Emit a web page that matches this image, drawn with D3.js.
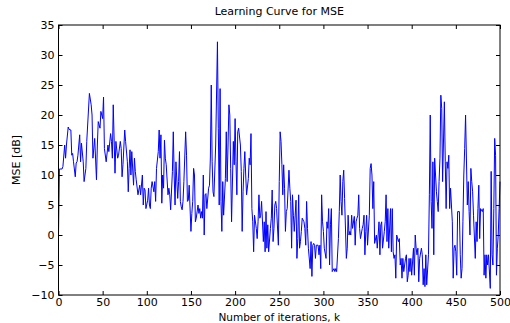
<!DOCTYPE html>
<html>
<head>
<meta charset="utf-8">
<script src="https://cdn.jsdelivr.net/npm/d3@7"></script>
<style>
  html, body { margin: 0; padding: 0; background: #fff; }
  svg { display: block; font-family: "DejaVu Sans", sans-serif; }
</style>
</head>
<body>
<div id="chart"></div>
<script>
// iteration index and MSE (dB)
const iterations = [
  0,1,4,5,7,8,9,11,12,14,15,16,17,19,20,21,22,24,25,26,28,29,31,32,35,37,38,39,41,43,44,45,47,48,50,51,52,54,56,57,59,60,61,62,
  64,65,67,68,70,71,72,73,75,76,78,79,80,81,82,83,85,86,87,88,90,91,92,93,95,96,97,98,99,101,102,103,104,105,106,108,109,110,111,113,114,115,116,117,118,119,120,121,122,
  124,125,126,127,129,130,131,132,133,135,136,137,138,139,140,141,142,144,145,146,147,148,150,151,152,153,154,155,156,158,159,160,161,162,163,164,165,166,167,168,170,171,172,173,174,175,176,178,180,181,182,183,
  184,185,186,187,189,190,191,192,193,194,195,196,198,199,200,201,202,203,204,206,207,208,209,210,211,212,213,215,216,217,218,219,220,221,222,224,225,226,227,228,229,230,232,233,234,235,236,237,238,240,241,242,243,244,
  245,246,247,249,250,251,252,253,254,255,256,257,258,259,261,262,263,264,265,266,267,269,270,271,272,273,274,275,276,278,279,280,281,282,283,285,286,287,288,289,290,291,292,294,295,296,297,298,299,300,301,303,304,305,306,307,308,309,310,312,
  313,314,315,317,318,319,320,321,322,323,324,326,327,328,329,330,331,332,333,335,336,337,338,339,340,341,342,344,345,346,347,348,349,350,352,353,354,355,356,357,358,360,361,362,363,364,365,366,367,369,
  370,371,372,373,374,376,377,378,379,380,381,382,383,385,386,387,388,389,390,391,393,394,395,396,397,398,399,400,402,403,404,405,406,407,408,409,411,412,413,414,415,416,417,419,420,421,422,423,424,425,426,428,429,430,431,432,433,434,
  435,437,438,439,440,441,442,443,444,446,447,448,449,450,451,452,454,455,456,457,458,459,460,461,463,464,465,466,467,468,469,470,472,473,474,475,476,477,478,480,481,482,483,484,485,486,487,489,490,491,492,493,494,495,496,497,498,499,500
];
const mseDb = [
  0,11,11,11.4,15,12.8,15,18,17.6,17.5,13.3,13.6,12.2,9.7,12,12.2,13.3,16.7,12.2,15.3,12.2,8.9,11.1,15.6,23.6,21.7,20,12.8,16.1,9.2,15,18.9,17.8,20.6,19.4,23,14.4,12.2,15,13.9,16.9,15.6,12.8,21.7,
  10.3,15.6,12.8,13.3,15.6,14.4,9.7,11.7,17.5,15.6,12.2,7.2,11.1,14.2,10,13.9,8.3,12.8,10.6,9.2,6.7,7.5,8.3,6.7,10,5,7.8,7.5,4.4,5.8,7.8,5,4.4,7.8,8.9,7.2,8.9,5.6,11.1,13.9,17.5,12.8,16.7,5.3,10,7.8,15.8,12.8,11.7,
  6.7,7.8,6.7,4.2,10.6,17.2,10,5,12.2,6.1,8.9,13.9,5.6,4.7,4.2,5.6,8.9,17.2,13.3,5.6,5.8,8.3,0.6,3.6,5.6,11.1,10,2.2,2.8,5,3.6,4.4,2.8,3.9,2.8,10,0,6.7,6.9,4.4,7.8,8.3,13,25,12.2,7.2,6.4,15,32.2,17.8,5,24.4,
  5.6,0.6,8.9,3.3,9.4,17.2,8.9,15,21.7,20,11.1,2.2,15.6,11.7,19.4,12.2,6.7,17.2,17.8,15,10.6,0.6,7.2,11.1,13.9,10,6.7,9.4,12.8,11.7,16.9,4.4,2.2,-2.8,3.3,1.1,-0.6,2.2,6.7,2.8,3.3,5.6,-1.1,2.2,-2.8,3.9,-2.2,1.7,-2.8,1.1,2.8,7.5,-1.1,1.1,
  5,5.6,4.4,-1.7,8.9,17.2,15.6,11.7,6.7,11.7,7.8,0.6,3.9,4.4,10.8,7.8,5.6,-2.2,6.7,3.3,0.6,5.8,-3.9,-0.6,6.7,-2.2,-1.1,0.6,2.8,2.2,1.1,-1.7,5.6,1.1,-2.2,-5.6,-1.1,-6.9,-1.7,-1.4,-1.7,-3.9,-1.7,-1.7,-3.3,-1.7,-5.6,6.7,2.2,0.6,-2.2,-3.9,2.2,1.1,4.4,-5,1.7,4.4,-6.1,-5.6,
  -6.1,-5.6,-6.1,-0.6,3.9,10,5.6,3.3,8.9,10.8,6.1,-3.9,-2.2,3.3,0,0.6,0,3.3,1.1,3.1,-1.7,2.2,2.8,3.3,6.7,1.1,-0.6,1.1,1.7,3.3,-3.3,0.6,3.3,-1.7,3.3,11.1,11.9,10,4.4,8.9,-1.4,0,-2.2,0,2.2,-3.3,1.7,2.2,-2.2,0.6,
  2.2,6.7,-1.1,4.4,-2.2,4.4,-2.8,4.4,-2.8,-3.9,-3.3,-7.2,0,-1.1,-0.6,-5,-3.9,-7.2,-3.9,-6.1,-3.9,-3.3,-7.8,-6.7,-3.9,-6.1,-3.9,-6.7,-2.2,-6.7,0,-2.2,-3.3,-2.2,-7.8,-3.9,-2.2,-3.3,-8.3,-5.6,-8.6,-3.3,-8.3,-3.3,6.7,20,5.6,1.1,12.2,-3.3,12.8,7.2,5.6,3.9,8.9,12.8,23.3,21.1,
  8.9,22.2,12.2,4.4,12.2,11.1,13.3,4.4,7.8,2.2,-7.2,-2.2,-1.7,-2.8,-6.7,3.9,3.9,-3.3,-7.2,-5.6,2.2,10,14.4,20,5,8.9,3.9,0,11.1,8.9,7.2,3.3,-3.9,2.2,-1.1,4.4,8.3,-0.6,4.4,3.9,4.4,-6.7,-3.3,-7.2,-3.3,-5,-3.3,-8.9,10.6,-3.3,-5,4.4,16.1,13.3,-6.7,-2.2,0,4.4,8.9
];
const xTickValues = [0, 50, 100, 150, 200, 250, 300, 350, 400, 450, 500];
const yTickValues = [-10, -5, 0, 5, 10, 15, 20, 25, 30, 35];
const titleText = "Learning Curve for MSE";
const xLabelText = "Number of iterations, k";
const yLabelText = "MSE [dB]";

const width = 510;
const height = 323;
const margin = { top: 25, right: 10, bottom: 28, left: 58.5 };
const plotW = 500 - margin.left;
const plotH = 295 - margin.top;

const svg = d3.select("#chart")
  .append("svg")
  .attr("width", width)
  .attr("height", height);

const x = d3.scaleLinear().domain([0, 500]).range([0, plotW]);
const y = d3.scaleLinear().domain([-10, 35]).range([plotH, 0]);

const g = svg.append("g")
  .attr("transform", `translate(${margin.left},${margin.top})`);

// data line
const points = iterations.map((k, i) => [k, mseDb[i]]);
const line = d3.line()
  .x(d => x(d[0]))
  .y(d => y(d[1]));

g.append("path")
  .datum(points)
  .attr("fill", "none")
  .attr("stroke", "#0000ff")
  .attr("stroke-width", 1)
  .attr("stroke-linejoin", "round")
  .attr("d", line);

// axes, MATLAB style: ticks pointing inwards on every side
function styleAxis(sel) {
  sel.select(".domain").remove();
  sel.selectAll(".tick line").attr("stroke", "#000");
  sel.selectAll(".tick text")
    .attr("fill", "#000")
    .style("font-size", "11px")
    .style("font-family", "DejaVu Sans, sans-serif");
}

g.append("g")
  .attr("transform", `translate(0,${plotH})`)
  .call(d3.axisBottom(x).tickValues(xTickValues).tickSize(-4).tickPadding(3))
  .call(styleAxis);

g.append("g")
  .call(d3.axisTop(x).tickValues(xTickValues).tickSize(-4).tickFormat(""))
  .call(styleAxis);

g.append("g")
  .call(d3.axisLeft(y).tickValues(yTickValues).tickSize(-4).tickPadding(4))
  .call(styleAxis);

g.append("g")
  .attr("transform", `translate(${plotW},0)`)
  .call(d3.axisRight(y).tickValues(yTickValues).tickSize(-4).tickFormat(""))
  .call(styleAxis);

// box
g.append("rect")
  .attr("x", 0)
  .attr("y", 0)
  .attr("width", plotW)
  .attr("height", plotH)
  .attr("fill", "none")
  .attr("stroke", "#000")
  .attr("stroke-width", 1);

// texts
svg.append("text")
  .attr("x", margin.left + plotW / 2)
  .attr("y", 15)
  .attr("text-anchor", "middle")
  .style("font-size", "11px")
  .text(titleText);

svg.append("text")
  .attr("x", margin.left + plotW / 2)
  .attr("y", 321)
  .attr("text-anchor", "middle")
  .style("font-size", "10.5px")
  .text(xLabelText);

svg.append("text")
  .attr("transform", `translate(20,${margin.top + plotH / 2}) rotate(-90)`)
  .attr("text-anchor", "middle")
  .style("font-size", "11px")
  .text(yLabelText);
</script>
</body>
</html>
